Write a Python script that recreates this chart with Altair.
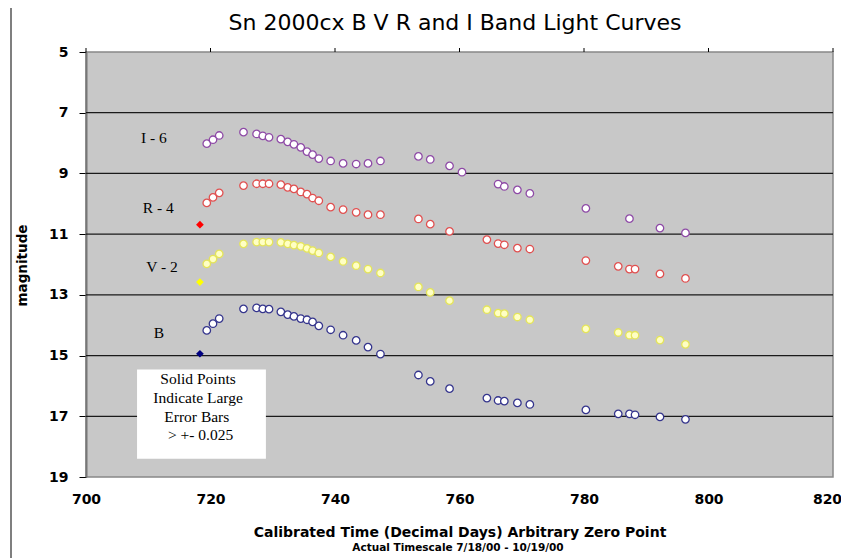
import altair as alt
import pandas as pd

# ---------------- data ----------------
days_I = [719.4, 720.4, 721.4, 725.3, 727.4, 728.4, 729.4, 731.3, 732.4, 733.4, 734.5,
          735.5, 736.4, 737.4, 739.3, 741.3, 743.4, 745.3, 747.3, 753.4, 755.3, 758.4,
          760.4, 766.2, 767.2, 769.3, 771.3, 780.3, 787.3, 792.2, 796.3]
mag_I6 = [8.02, 7.89, 7.75, 7.64, 7.70, 7.76, 7.81, 7.87, 7.96, 8.04, 8.14,
          8.28, 8.38, 8.51, 8.59, 8.67, 8.69, 8.67, 8.59, 8.44, 8.54, 8.75,
          8.96, 9.35, 9.43, 9.54, 9.66, 10.15, 10.49, 10.80, 10.96]

days_RVB = [719.4, 720.4, 721.4, 725.3, 727.4, 728.4, 729.4, 731.3, 732.4, 733.4, 734.5,
            735.5, 736.4, 737.4, 739.3, 741.3, 743.4, 745.3, 747.3, 753.4, 755.3, 758.4,
            764.4, 766.2, 767.2, 769.3, 771.3, 780.3, 785.5, 787.3, 788.2, 792.2, 796.3]
mag_R4 = [9.97, 9.79, 9.64, 9.40, 9.34, 9.34, 9.34, 9.37, 9.46, 9.51, 9.61,
          9.68, 9.81, 9.90, 10.11, 10.19, 10.28, 10.36, 10.36, 10.50, 10.67, 10.91,
          11.18, 11.31, 11.35, 11.46, 11.49, 11.87, 12.06, 12.15, 12.15, 12.31, 12.46]
mag_V2 = [11.98, 11.82, 11.65, 11.32, 11.26, 11.26, 11.26, 11.27, 11.32, 11.36, 11.40,
          11.47, 11.54, 11.62, 11.75, 11.90, 12.04, 12.15, 12.28, 12.74, 12.92, 13.19,
          13.49, 13.60, 13.62, 13.73, 13.82, 14.12, 14.24, 14.33, 14.33, 14.49, 14.63]
mag_B = [14.17, 13.95, 13.78, 13.46, 13.43, 13.46, 13.47, 13.56, 13.65, 13.71, 13.78,
         13.82, 13.89, 14.02, 14.15, 14.33, 14.50, 14.72, 14.95, 15.64, 15.85, 16.09,
         16.40, 16.48, 16.50, 16.56, 16.61, 16.79, 16.92, 16.92, 16.95, 17.02, 17.10]

# solid points (large error bars)
solid_bands = ["R", "V", "B"]
solid_days = [718.3, 718.3, 718.3]
solid_mags = [10.69, 12.58, 14.94]

bands = ["I", "R", "V", "B"]
band_labels = ["I - 6", "R - 4", "V - 2", "B"]
label_x = [710.9, 711.6, 712.2, 711.7]
label_y = [7.82, 10.13, 12.07, 14.25]

box_x = [708.2, 728.9]
box_y = [15.46, 18.40]
note_lines = ["Solid Points", "Indicate Large", "Error Bars", "> +- 0.025"]
note_x = [718.0, 718.0, 717.8, 718.4]
note_y = [15.76, 16.39, 17.01, 17.61]

x_ticks = [700, 720, 740, 760, 780, 800, 820]
y_ticks = [5, 7, 9, 11, 13, 15, 17, 19]
y_grid = [7, 9, 11, 13, 15, 17]

stroke_colors = ["#8E4AA6", "#E05050", "#E4E45A", "#34348C"]
fill_colors = ["#FFFFFF", "#FFFFFF", "#FFFFC4", "#FFFFFF"]
solid_colors = ["#FF0000", "#FFFF00", "#000080"]

# ---------------- tables ----------------
rows = [{"band": "I", "day": d, "mag": m} for d, m in zip(days_I, mag_I6)]
rows += [{"band": "R", "day": d, "mag": m} for d, m in zip(days_RVB, mag_R4)]
rows += [{"band": "V", "day": d, "mag": m} for d, m in zip(days_RVB, mag_V2)]
rows += [{"band": "B", "day": d, "mag": m} for d, m in zip(days_RVB, mag_B)]
pts = pd.DataFrame(rows)
solid = pd.DataFrame({"band": solid_bands, "day": solid_days, "mag": solid_mags})
labels = pd.DataFrame({"text": band_labels, "day": label_x, "mag": label_y})
box = pd.DataFrame({"x1": [box_x[0]], "x2": [box_x[1]], "y1": [box_y[0]], "y2": [box_y[1]]})
notes = pd.DataFrame({"text": note_lines, "day": note_x, "mag": note_y})
grid = pd.DataFrame({"mag": y_grid})
xt = pd.DataFrame({"day": x_ticks})

W, H = 747, 425
xscale = alt.Scale(domain=[700, 820], nice=False, zero=False)
yscale = alt.Scale(domain=[5, 19], nice=False, zero=False, reverse=True)

x_axis = alt.Axis(values=x_ticks, ticks=False, domain=False, grid=False, labelFlush=False,
                  labelFont="DejaVu Sans", labelFontSize=14, labelFontWeight="bold",
                  labelColor="#000", labelPadding=15,
                  labelOffset=alt.condition("datum.value >= 820", alt.value(-6), alt.value(0)),
                  title="Calibrated Time (Decimal Days) Arbitrary Zero Point",
                  titleFont="DejaVu Sans", titleFontSize=14, titleFontWeight="bold",
                  titleColor="#000", titleBaseline="alphabetic", titleY=59)
y_axis = alt.Axis(values=y_ticks, grid=False, tickSize=7, tickColor="#000", labelFlush=False,
                  domainColor="#777777", domainWidth=2,
                  labelFont="DejaVu Sans", labelFontSize=14, labelFontWeight="bold",
                  labelColor="#000", labelPadding=11,
                  title="magnitude", titleFont="DejaVu Sans", titleFontSize=13.5,
                  titleFontWeight="bold", titleColor="#000",
                  titleX=-64, titleY=213, titleAngle=270, titleAlign="center",
                  titleBaseline="middle")

X = lambda f: alt.X(f, type="quantitative", scale=xscale, axis=x_axis)
Y = lambda f: alt.Y(f, type="quantitative", scale=yscale, axis=y_axis)

grid_layer = alt.Chart(grid).mark_rule(color="#1a1a1a", strokeWidth=1.2).encode(y=Y("mag"))

top_ticks = alt.Chart(xt).mark_rule(color="#000", strokeWidth=1).encode(
    x=X("day"), y=alt.value(-4), y2=alt.value(0))

box_layer = alt.Chart(box).mark_rect(color="#FFFFFF").encode(
    x=X("x1"), x2="x2", y=Y("y1"), y2="y2")

note_layer = alt.Chart(notes).mark_text(font="Liberation Serif", fontSize=15.5,
                                        color="#000", baseline="middle", align="center").encode(
    x=X("day"), y=Y("mag"), text="text")

label_layer = alt.Chart(labels).mark_text(font="Liberation Serif", fontSize=15.5,
                                          color="#000", baseline="middle", align="center").encode(
    x=X("day"), y=Y("mag"), text="text")

point_layer = alt.Chart(pts).mark_circle(size=56, opacity=1, strokeWidth=1.3).encode(
    x=X("day"), y=Y("mag"),
    stroke=alt.Stroke("band:N", scale=alt.Scale(domain=bands, range=stroke_colors), legend=None),
    fill=alt.Fill("band:N", scale=alt.Scale(domain=bands, range=fill_colors), legend=None))

solid_layer = alt.Chart(solid).mark_point(shape="diamond", filled=True, size=60, opacity=1).encode(
    x=X("day"), y=Y("mag"),
    color=alt.Color("band:N", scale=alt.Scale(domain=solid_bands, range=solid_colors), legend=None))

one = alt.Data(values=[{}])
frame_left = alt.Chart(one).mark_rule(color="#555555", strokeWidth=1.5).encode(
    x=alt.value(-75), y=alt.value(-49), y2=alt.value(520))
frame_top = alt.Chart(one).mark_rule(color="#555555", strokeWidth=1.5).encode(
    x=alt.value(-75), x2=alt.value(800), y=alt.value(-49))

title_layer = alt.Chart(one).mark_text(font="DejaVu Sans", fontSize=22, color="#000",
                                       align="center", baseline="alphabetic").encode(
    x=alt.value(369), y=alt.value(-22),
    text=alt.value("Sn 2000cx B V R and I Band Light Curves"))

sub_layer = alt.Chart(one).mark_text(font="DejaVu Sans", fontSize=10.5, fontWeight="bold",
                                     color="#000", align="center", baseline="alphabetic").encode(
    x=alt.value(372), y=alt.value(499),
    text=alt.value("Actual Timescale 7/18/00 -  10/19/00"))

chart = alt.layer(
    grid_layer, top_ticks, box_layer, note_layer, label_layer, point_layer, solid_layer,
    frame_left, frame_top, title_layer, sub_layer
).properties(
    width=W, height=H,
    autosize=alt.AutoSizeParams(type="none"),
    padding={"left": 78, "top": 44, "right": 8, "bottom": 81},
    background="#FFFFFF",
).configure_view(
    fill="#C8C8C8", stroke="#888888", strokeWidth=1.5
)

chart.save("out.html", embed_options={"renderer": "svg", "actions": False})
